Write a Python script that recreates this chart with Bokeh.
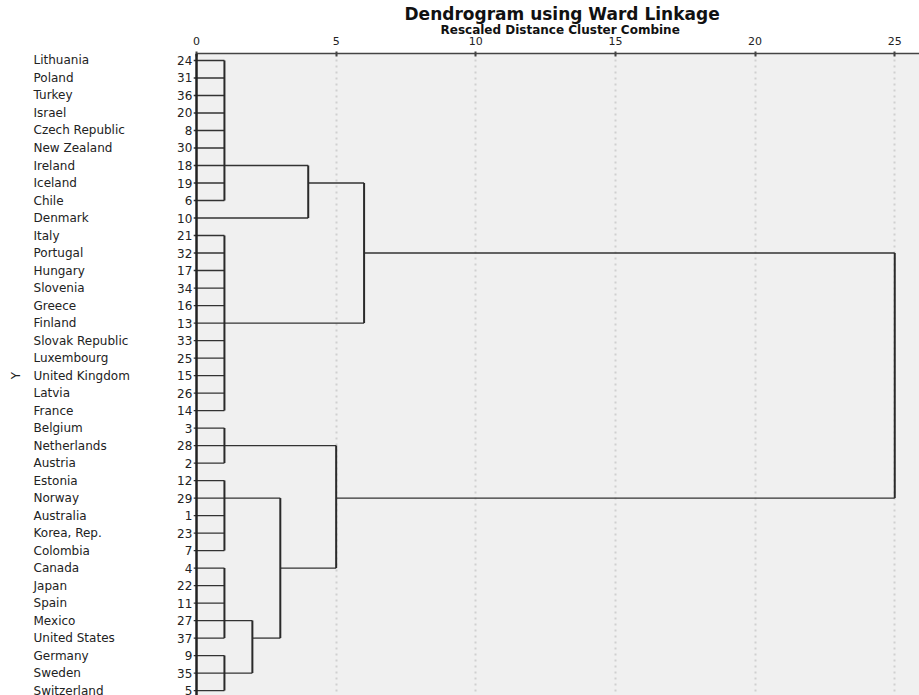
import numpy as np
from bokeh.plotting import figure
from bokeh.models import (Range1d, BoxAnnotation, LinearAxis, FixedTicker, Span, Grid, Title)
from bokeh.core.properties import value
from bokeh.embed import file_html
from bokeh.resources import INLINE

# ---------------- data ----------------
countries = ["Lithuania", "Poland", "Turkey", "Israel", "Czech Republic", "New Zealand",
             "Ireland", "Iceland", "Chile", "Denmark", "Italy", "Portugal", "Hungary",
             "Slovenia", "Greece", "Finland", "Slovak Republic", "Luxembourg",
             "United Kingdom", "Latvia", "France", "Belgium", "Netherlands", "Austria",
             "Estonia", "Norway", "Australia", "Korea, Rep.", "Colombia", "Canada",
             "Japan", "Spain", "Mexico", "United States", "Germany", "Sweden", "Switzerland"]
case_numbers = [24, 31, 36, 20, 8, 30, 18, 19, 6, 10, 21, 32, 17, 34, 16, 13, 33, 25, 15,
                26, 14, 3, 28, 2, 12, 29, 1, 23, 7, 4, 22, 11, 27, 37, 9, 35, 5]

# clusters: rescaled joining distance, row where the joined branch leaves, parent cluster
cluster_ids = ["C0", "C1", "C2", "C3", "C4", "C5", "M0", "M1", "M2", "M3", "M4", "M5"]
cluster_heights = [1, 1, 1, 1, 1, 1, 4, 6, 2, 3, 5, 25]
cluster_out_rows = [6, 15, 22, 25, 32, 35, 7, 11, 33, 29, 25, 18]
cluster_parents = ["M0", "M1", "M4", "M3", "M2", "M2", "M1", "M5", "M3", "M4", "M5", None]
leaf_parents = (["C0"] * 9 + ["M0"] + ["C1"] * 11 + ["C2"] * 3 + ["C3"] * 5
                + ["C4"] * 5 + ["C5"] * 3)

x_ticks = [0, 5, 10, 15, 20, 25]
title_text = "Dendrogram using Ward Linkage"
subtitle_text = "Rescaled Distance Cluster Combine"
y_label = "Y"

# ---------------- geometry from data ----------------
rows = list(range(len(countries)))
h = dict(zip(cluster_ids, cluster_heights))
out = dict(zip(cluster_ids, cluster_out_rows))
par = dict(zip(cluster_ids, cluster_parents))

hx0, hx1, hy = [], [], []
children_rows = {c: [] for c in cluster_ids}
for r, pc in zip(rows, leaf_parents):
    hx0.append(-0.1); hx1.append(h[pc]); hy.append(r)
    children_rows[pc].append(r)
for c in cluster_ids:
    if par[c] is not None:
        hx0.append(h[c]); hx1.append(h[par[c]]); hy.append(out[c])
        children_rows[par[c]].append(out[c])

vx, vy0, vy1 = [], [], []
for c in cluster_ids:
    vx.append(h[c]); vy0.append(min(children_rows[c])); vy1.append(max(children_rows[c]))

# ---------------- figure ----------------
W, H = 919, 695
p = figure(width=W, height=H, output_backend="svg", toolbar_location=None,
           x_range=Range1d(-7.018, 25.886), y_range=Range1d(36.28, -0.399),
           x_axis_location=None, y_axis_location=None,
           min_border_left=0, min_border_right=0, min_border_bottom=0, min_border_top=51)
p.title = None
p.outline_line_color = None
p.background_fill_color = "white"
p.border_fill_color = "white"
p.center = []

bg = BoxAnnotation(left=0, fill_color="#f0f0f0", fill_alpha=1.0, line_color=None, level="image")
p.add_layout(bg)

grid = Grid(dimension=0, ticker=FixedTicker(ticks=x_ticks[1:]))
grid.grid_line_color = "#d0d0d0"
grid.grid_line_dash = "2 4"
grid.grid_line_width = 2
p.add_layout(grid, "center")

ax = LinearAxis(ticker=FixedTicker(ticks=x_ticks), bounds=(0, 25.9))
ax.axis_line_color = "#444444"
ax.axis_line_width = 1.5
ax.major_tick_line_color = "#444444"
ax.major_tick_line_width = 2
ax.major_tick_in = 3
ax.major_tick_out = 2
ax.minor_tick_line_color = None
ax.major_label_text_font = "DejaVu Sans"
ax.major_label_text_font_size = "11px"
ax.major_label_text_color = "#222222"
ax.major_label_standoff = 7
p.add_layout(ax, "above")

sub = Title(text=subtitle_text, align="left", offset=440, text_font="DejaVu Sans",
            text_font_style="bold", text_font_size="12px", text_color="#111111", standoff=-7)
p.add_layout(sub, "above")
main = Title(text=title_text, align="left", offset=404, text_font="DejaVu Sans",
             text_font_style="bold", text_font_size="17px", text_color="#111111", standoff=2)
p.add_layout(main, "above")

p.add_layout(Span(location=0, dimension="height", line_color="#222222", line_width=2.5))

p.segment(x0=hx0, x1=hx1, y0=hy, y1=hy, line_color="#333333", line_width=1.3)
p.segment(x0=vx, x1=vx, y0=vy0, y1=vy1, line_color="#2a2a2a", line_width=2)

p.text(x=[-5.836] * len(rows), y=rows, text=countries, text_font=value("DejaVu Sans"),
       text_font_size="12px", text_align="left", text_baseline="middle", text_color="#222222")
p.text(x=[-0.15] * len(rows), y=rows, text=[str(n) for n in case_numbers],
       text_font=value("DejaVu Sans"), text_font_size="12px", text_align="right",
       text_baseline="middle", text_color="#222222")
p.text(x=[-6.48], y=[18], text=[y_label], angle=np.pi / 2, text_font=value("DejaVu Sans"),
       text_font_size="12px", text_align="center", text_baseline="middle", text_color="#222222")

open("out.html", "w").write(file_html(p, INLINE))
